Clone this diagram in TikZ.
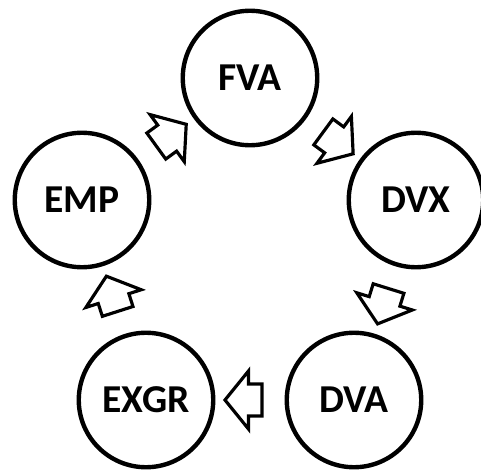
\documentclass[tikz,border=0pt]{standalone}
\usepackage{fontspec}
\setmainfont{Carlito}
\usetikzlibrary{shapes.arrows}
\tikzset{
  stage/.style={
    shape = circle,
    draw,
    line width = 2.5pt,
    minimum size = 2.69cm,
    inner sep = 0pt,
    font = \fontsize{22.5}{27}\selectfont\bfseries
  },
  blockarrow/.style={
    shape = single arrow,
    draw,
    fill = white,
    line width = 1.8pt,
    inner xsep = 0pt,
    inner ysep = 0.29cm,
    minimum height = 0.74cm,
    single arrow head extend = 0.26cm,
    single arrow tip angle = 102,
    sloped,
    allow upside down
  }
}
\begin{document}
\begin{tikzpicture}[x=0.02cm,y=-0.02cm]
  \useasboundingbox (0,0) rectangle (481,470);
  % the five stages of the cycle
  \node[stage] (fva) at (250,78) {FVA};
  \node[stage] (dvx) at (416,200) {DVX};
  \node[stage] (dva) at (354,400) {DVA};
  \node[stage] (exgr) at (146,400) {EXGR};
  \node[stage] (emp) at (82,200) {EMP};
  % hollow arrows between neighbours
  \path (fva) -- node[blockarrow] (a1) {} (dvx);
  \path (dvx) -- node[blockarrow] (a2) {} (dva);
  \path (dva) -- node[blockarrow] (a3) {} (exgr);
  \path (exgr) -- node[blockarrow] (a4) {} (emp);
  \path (emp) -- node[blockarrow] (a5) {} (fva);
\end{tikzpicture}
\end{document}
